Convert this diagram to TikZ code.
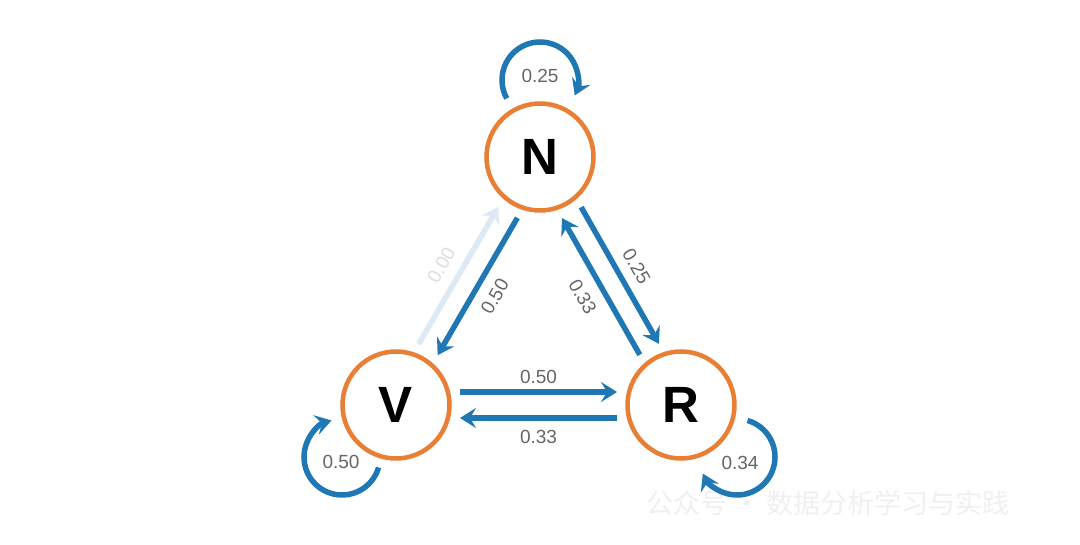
\documentclass[tikz,border=0pt]{standalone}
\usepackage{fontspec}
\setmainfont{Liberation Sans}
\newfontfamily\cjk{Noto Sans CJK SC}
\usetikzlibrary{calc,arrows.meta}
\definecolor{nodeorange}{HTML}{E97F35}
\definecolor{edgeblue}{HTML}{1F77B4}
\definecolor{edgefaint}{HTML}{DDE9F4}
\definecolor{labgray}{HTML}{666666}
\definecolor{labfaint}{HTML}{DEDEDE}
\tikzset{
  x=1pt, y=1pt,
  state/.style={circle, draw=nodeorange, line width=4.5pt, fill=white,
    minimum size=107pt, inner sep=0pt, font=\fontsize{51}{51}\selectfont\bfseries},
  tipstyle/.style={-{Stealth[length=16pt,width=20pt,inset=6pt]}},
  edge/.style={draw=edgeblue, line width=5.5pt, tipstyle,
    shorten <=64pt, shorten >=64pt},
  faintedge/.style={edge, draw=edgefaint},
  loopedge/.style={draw=edgeblue, line width=5.5pt, tipstyle},
  lab/.style={text=labgray, font=\fontsize{19}{19}\selectfont, inner sep=0pt},
  faintlab/.style={lab, text=labfaint},
}
\begin{document}
\begin{tikzpicture}
\useasboundingbox (0,0) rectangle (1080,-545);
\fill[white] (0,0) rectangle (1080,-545);

% watermark
\node[text=black!6, font=\cjk\fontsize{27}{27}\selectfont, anchor=west] (wm) at (643,-503) {公众号 · 数据分析学习与实践};

\node[state] (N) at (540,-157) {N};
\node[state] (V) at (396,-405) {V};
\node[state] (R) at (681,-405) {R};

% straight edges (each offset to its own left side)
\draw[faintedge] ($(V)!11pt!90:(N)$) -- ($(N)!11pt!-90:(V)$);
\draw[edge] ($(N)!11pt!90:(V)$) -- ($(V)!11pt!-90:(N)$);
\draw[edge] ($(N)!11pt!90:(R)$) -- ($(R)!11pt!-90:(N)$);
\draw[edge] ($(R)!11pt!90:(N)$) -- ($(N)!11pt!-90:(R)$);
\draw[edge] ($(V)!13pt!90:(R)$) -- ($(R)!13pt!-90:(V)$);
\draw[edge] ($(R)!13pt!90:(V)$) -- ($(V)!13pt!-90:(R)$);

% edge labels
\node[faintlab, rotate=60] (l1) at ($($(V)!0.5!(N)$)!31pt!90:(N)$) {0.00};
\node[lab, rotate=60] (l2) at ($($(N)!0.5!(V)$)!31pt!90:(V)$) {0.50};
\node[lab, rotate=-60] (l3) at ($($(N)!0.5!(R)$)!30pt!90:(R)$) {0.25};
\node[lab, rotate=-60] (l4) at ($($(R)!0.5!(N)$)!32pt!90:(N)$) {0.33};
\node[lab] (l5) at ($($(V)!0.5!(R)$)!28pt!90:(R)$) {0.50};
\node[lab] (l6) at ($($(R)!0.5!(V)$)!32pt!90:(V)$) {0.33};

% self loops
\coordinate (Nc) at ($(N)+(0,77)$);
\coordinate (Vc) at ($(V)+(-54,-52)$);
\coordinate (Rc) at ($(R)+(56,-52)$);
\draw[loopedge] ([shift={(209:38)}]Nc) arc[start angle=209, end angle=-24, radius=38];
\draw[loopedge] ([shift={(-16:38)}]Vc) arc[start angle=-16, end angle=-254, radius=38];
\draw[loopedge] ([shift={(74:38)}]Rc) arc[start angle=74, end angle=-154, radius=38];
\node[lab] (ln) at ($(Nc)+(0,4)$) {0.25};
\node[lab] (lv) at ($(Vc)+(-1,-5)$) {0.50};
\node[lab] (lr) at ($(Rc)+(3,-6)$) {0.34};
\end{tikzpicture}
\end{document}
